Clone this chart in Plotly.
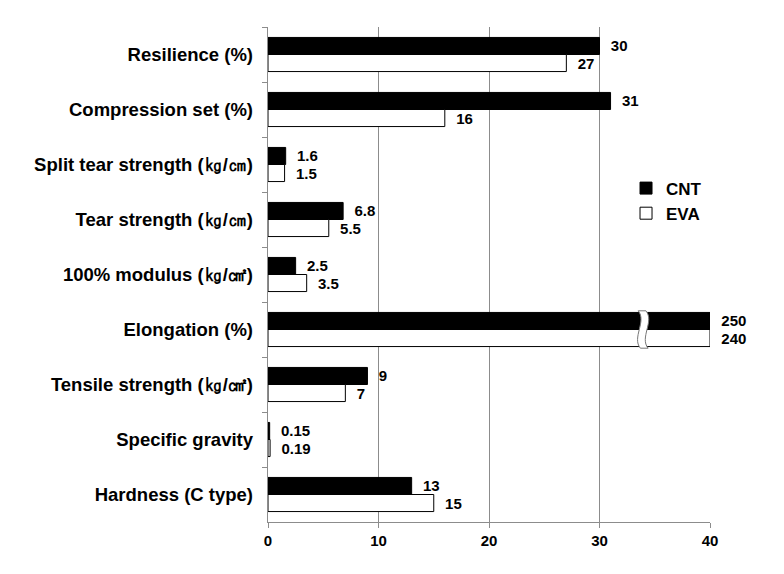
import plotly.graph_objects as go

categories = ["Resilience (%)", "Compression set (%)", "Split tear strength (㎏/㎝)",
              "Tear strength (㎏/㎝)", "100% modulus (㎏/㎠)", "Elongation (%)",
              "Tensile strength (㎏/㎠)", "Specific gravity", "Hardness (C type)"]
cnt_values = [30, 31, 1.6, 6.8, 2.5, 250, 9, 0.15, 13]
eva_values = [27, 16, 1.5, 5.5, 3.5, 240, 7, 0.19, 15]
cnt_labels = ["30", "31", "1.6", "6.8", "2.5", "250", "9", "0.15", "13"]
eva_labels = ["27", "16", "1.5", "5.5", "3.5", "240", "7", "0.19", "15"]
x_ticks = [0, 10, 20, 30, 40]

AXIS_MAX = 40
BREAK_AT = 33.7

def clip(vals):
    return [min(v, AXIS_MAX) for v in vals]

lab_font = dict(family="Liberation Sans", size=15, color="black", weight="bold")

fig = go.Figure()
fig.add_trace(go.Bar(
    y=categories, x=clip(cnt_values), name="CNT", orientation="h",
    marker=dict(color="black", line=dict(color="black", width=1)),
    text=["  " + t for t in cnt_labels], textposition="outside", cliponaxis=False,
    textfont=lab_font, constraintext="none",
))
fig.add_trace(go.Bar(
    y=categories, x=clip(eva_values), name="EVA", orientation="h",
    marker=dict(color="white", line=dict(color="black", width=1)),
    text=["  " + t for t in eva_labels], textposition="outside", cliponaxis=False,
    textfont=lab_font, constraintext="none",
))

# axis break on Elongation bars
ei = categories.index("Elongation (%)")
b = BREAK_AT
path = (f"M {b-0.2},{ei-0.34} C {b+0.6},{ei-0.15} {b-0.8},{ei+0.15} {b},{ei+0.34} "
        f"L {b+0.7},{ei+0.34} C {b-0.1},{ei+0.15} {b+1.3},{ei-0.15} {b+0.5},{ei-0.34} Z")
fig.add_shape(type="path", path=path, xref="x", yref="y",
              fillcolor="white", line=dict(color="#777777", width=1), layer="above")

fig.update_layout(
    width=784, height=574,
    margin=dict(l=260, r=82, t=19, b=60),
    paper_bgcolor="white", plot_bgcolor="white",
    barmode="group", bargap=0.38, bargroupgap=0,
    font=dict(family="Liberation Sans", color="black"),
    showlegend=True,
    legend=dict(x=0.81, y=0.71, xanchor="left", yanchor="top",
                bgcolor="rgba(0,0,0,0)", traceorder="normal", itemwidth=30,
                font=dict(family="Liberation Sans", size=17, color="black", weight="bold")),
    xaxis=dict(range=[0, AXIS_MAX], tickvals=x_ticks, showgrid=True,
               gridcolor="#8c8c8c", gridwidth=1, zeroline=False,
               showline=True, linecolor="#8c8c8c", ticks="outside", ticklen=5,
               tickcolor="#8c8c8c",
               tickfont=dict(family="Liberation Sans", size=15, color="black", weight="bold")),
    yaxis=dict(categoryorder="array", categoryarray=categories, autorange="reversed",
               showline=True, linecolor="#8c8c8c", ticks="outside", ticklen=5,
               tickcolor="#8c8c8c", tickson="boundaries", showgrid=False,
               ticksuffix="  ",
               tickfont=dict(family="Liberation Sans", size=18.5, color="black", weight="bold")),
)

fig.write_html("out.html")
